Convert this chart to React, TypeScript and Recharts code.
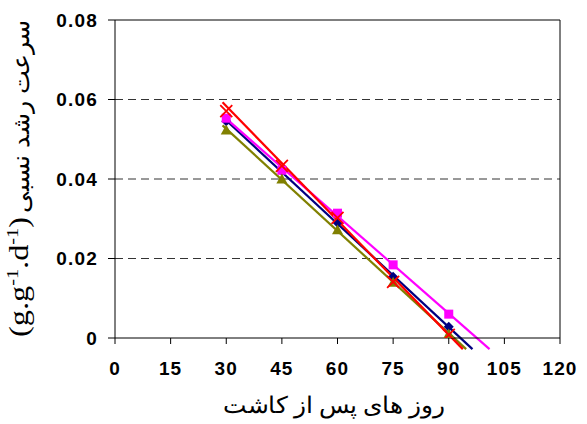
import React from 'react';
import { ComposedChart, Line, Scatter, XAxis, YAxis, CartesianGrid, ReferenceLine } from 'recharts';

// Observed points (days after planting vs relative growth rate)
const days = [30, 45, 60, 75, 90];
const navyVals = [0.0545, 0.042, 0.029, 0.0154, 0.0028];
const magentaVals = [0.0553, 0.0422, 0.0314, 0.0184, 0.006];
const oliveVals = [0.0523, 0.04, 0.0272, 0.014, 0.001];
const redVals = [0.0571, 0.0433, 0.0302, 0.0141, 0.0008];

// Linear trend lines: start / end points
const navyTrendX = [29, 96.4];
const navyTrendY = [0.0556, -0.0028];
const magentaTrendX = [29, 101];
const magentaTrendY = [0.056, -0.0028];
const oliveTrendX = [29, 94.7];
const oliveTrendY = [0.0535, -0.0028];
const redTrendX = [29, 93.8];
const redTrendY = [0.0593, -0.0028];

const xTicks = [0, 15, 30, 45, 60, 75, 90, 105, 120];
const yTicks = [0, 0.02, 0.04, 0.06, 0.08];
const xTitle = 'روز های پس از کاشت';
const yTitleMain = 'سرعت رشد نسبی';

const toPts = (xs: number[], ys: number[]) => xs.map((x, i) => ({ x, y: ys[i] }));

const NAVY = '#000080';
const MAGENTA = '#FF00FF';
const OLIVE = '#808000';
const RED = '#FF0000';

const Diamond = (p: any) => {
  const { cx, cy } = p;
  const r = 5;
  return <path d={`M${cx},${cy - r}L${cx + r},${cy}L${cx},${cy + r}L${cx - r},${cy}Z`} fill={NAVY} />;
};
const Square = (p: any) => {
  const { cx, cy } = p;
  const r = 4.5;
  return <rect x={cx - r} y={cy - r} width={2 * r} height={2 * r} fill={MAGENTA} />;
};
const Triangle = (p: any) => {
  const { cx, cy } = p;
  const r = 5.5;
  return <path d={`M${cx},${cy - r}L${cx + r},${cy + r * 0.8}L${cx - r},${cy + r * 0.8}Z`} fill={OLIVE} />;
};
const Cross = (p: any) => {
  const { cx, cy } = p;
  const r = 6;
  return (
    <path d={`M${cx - r},${cy - r}L${cx + r},${cy + r}M${cx - r},${cy + r}L${cx + r},${cy - r}`} stroke={RED} strokeWidth={1.8} fill="none" />
  );
};

const tickFont = "'Liberation Sans', Arial, sans-serif";
const serifFont = "'Liberation Serif', 'Times New Roman', serif";

const YTitle = () => (
  <g>
    <text
      transform="translate(29,116) rotate(-90)"
      textAnchor="middle"
      fontFamily={serifFont}
      fontSize={24}
      fill="#000"
      textLength={193}
      lengthAdjust="spacingAndGlyphs"
    >
      {yTitleMain}
    </text>
    <text
      transform="translate(28,277) rotate(-90)"
      textAnchor="middle"
      fontFamily={serifFont}
      fontSize={27}
      fill="#000"
      textLength={120}
      lengthAdjust="spacingAndGlyphs"
    >
      (g.g
      <tspan dy={-10} fontSize={17}>-1</tspan>
      <tspan dy={10}>.d</tspan>
      <tspan dy={-10} fontSize={17}>-1</tspan>
      <tspan dy={10}>)</tspan>
    </text>
  </g>
);

const XTitle = () => (
  <text
    x={334}
    y={413}
    textAnchor="middle"
    fontFamily={serifFont}
    fontSize={23}
    fill="#000"
    textLength={222}
    lengthAdjust="spacingAndGlyphs"
  >
    {xTitle}
  </text>
);

export default function App() {
  const markers = (vals: number[]) => toPts(days, vals);
  return (
    <div style={{ position: 'absolute', left: 0, top: 0, width: 587, height: 424, background: '#fff' }}>
      <style>{'.recharts-line, .recharts-line * { clip-path: none !important; }'}</style>
      <ComposedChart width={587} height={424} margin={{ top: 20, right: 27, bottom: 56, left: 55 }}>
        <CartesianGrid vertical={false} stroke="#333" strokeDasharray="8 5" horizontalValues={[0.02, 0.04, 0.06]} />
        <XAxis
          dataKey="x"
          type="number"
          domain={[0, 120]}
          ticks={xTicks}
          interval={0}
          height={30}
          stroke="#000"
          tickSize={6}
          tickMargin={18}
          tick={{ fill: '#000', fontFamily: tickFont, fontWeight: 'bold', fontSize: 19, letterSpacing: 1.1 }}
          label={{ content: () => <XTitle /> }}
        />
        <YAxis
          type="number"
          domain={[0, 0.08]}
          allowDataOverflow
          ticks={yTicks}
          interval={0}
          width={60}
          stroke="#000"
          tickSize={7}
          tickMargin={10}
          tickFormatter={(v: number) => (v === 0 ? '0' : v.toFixed(2))}
          tick={{ fill: '#000', fontFamily: tickFont, fontWeight: 'bold', fontSize: 19, letterSpacing: 1.2 }}
          label={{ content: () => <YTitle /> }}
        />
        <ReferenceLine y={0.08} stroke="#000" strokeWidth={1} />
        <ReferenceLine x={120} stroke="#000" strokeWidth={1} />
        <Line data={toPts(oliveTrendX, oliveTrendY)} dataKey="y" stroke={OLIVE} strokeWidth={2.2} dot={false} isAnimationActive={false} />
        <Line data={toPts(navyTrendX, navyTrendY)} dataKey="y" stroke={NAVY} strokeWidth={2.2} dot={false} isAnimationActive={false} />
        <Line data={toPts(magentaTrendX, magentaTrendY)} dataKey="y" stroke={MAGENTA} strokeWidth={2.2} dot={false} isAnimationActive={false} />
        <Line data={toPts(redTrendX, redTrendY)} dataKey="y" stroke={RED} strokeWidth={2.2} dot={false} isAnimationActive={false} />
        <Scatter data={markers(navyVals)} dataKey="y" shape={Diamond} isAnimationActive={false} />
        <Scatter data={markers(magentaVals)} dataKey="y" shape={Square} isAnimationActive={false} />
        <Scatter data={markers(oliveVals)} dataKey="y" shape={Triangle} isAnimationActive={false} />
        <Scatter data={markers(redVals)} dataKey="y" shape={Cross} isAnimationActive={false} />
      </ComposedChart>
    </div>
  );
}
